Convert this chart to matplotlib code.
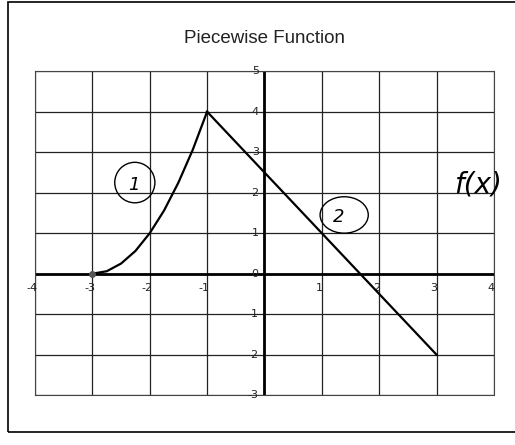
import matplotlib.pyplot as plt
from matplotlib.patches import Ellipse, Rectangle

# piece 1: curved part
x1 = [-3, -2.75, -2.5, -2.25, -2, -1.75, -1.5, -1.25, -1]
y1 = [0, 0.06, 0.25, 0.56, 1, 1.56, 2.25, 3.06, 4]
# piece 2: straight segment
x2 = [-1, 3]
y2 = [4, -2]

xticks = [-4, -3, -2, -1, 0, 1, 2, 3, 4]
yticks = [-3, -2, -1, 0, 1, 2, 3, 4, 5]

fig = plt.figure(figsize=(5.15, 4.45), dpi=100)
ax = fig.add_axes([0.068, 0.112, 0.891, 0.728])

# chart frame
fig.patches.append(Rectangle((0.016, 0.03), 0.99, 0.965, transform=fig.transFigure,
                             fill=False, ec='black', lw=1.2))

ax.set_xlim(-4, 4)
ax.set_ylim(-3, 5)
for v in xticks:
    ax.axvline(v, color='#222222', lw=0.9, zorder=1)
for v in yticks:
    ax.axhline(v, color='#222222', lw=0.9, zorder=1)
ax.axhline(0, color='black', lw=2, zorder=2)
ax.axvline(0, color='black', lw=2, zorder=2)

for s in ax.spines.values():
    s.set_linestyle((0, (2, 1)))
    s.set_color('#444444')
    s.set_linewidth(0.8)
ax.set_xticks([])
ax.set_yticks([])

for v in xticks:
    if v != 0:
        ax.text(v - 0.05, -0.35, str(v), ha='center', va='center', fontsize=8, color='#222222')
for v in yticks:
    ax.text(-0.1, v, str(v), ha='right', va='center', fontsize=8, color='#222222')

ax.plot(x1, y1, color='black', lw=1.6, zorder=3)
ax.plot(x2, y2, color='black', lw=1.6, zorder=3)
ax.plot([-3], [0], 'o', color='#555555', ms=4, zorder=4)

ax.set_title('Piecewise Function', fontsize=13.5, color='#222222', pad=20, family='Liberation Sans')

# handwritten notes
ax.add_patch(Ellipse((-2.26, 2.25), 0.7, 1.0, fill=False, ec='black', lw=1, zorder=5))
ax.text(-2.28, 2.2, '1', ha='center', va='center', fontsize=13, style='italic', zorder=5)
ax.add_patch(Ellipse((1.39, 1.45), 0.84, 0.9, fill=False, ec='black', lw=1, zorder=5))
ax.text(1.3, 1.4, '2', ha='center', va='center', fontsize=13, style='italic', zorder=5)
ax.text(3.72, 2.2, 'f(x)', ha='center', va='center', fontsize=20, style='italic',
        clip_on=False, zorder=5)

fig.savefig('out.png', dpi=100)
